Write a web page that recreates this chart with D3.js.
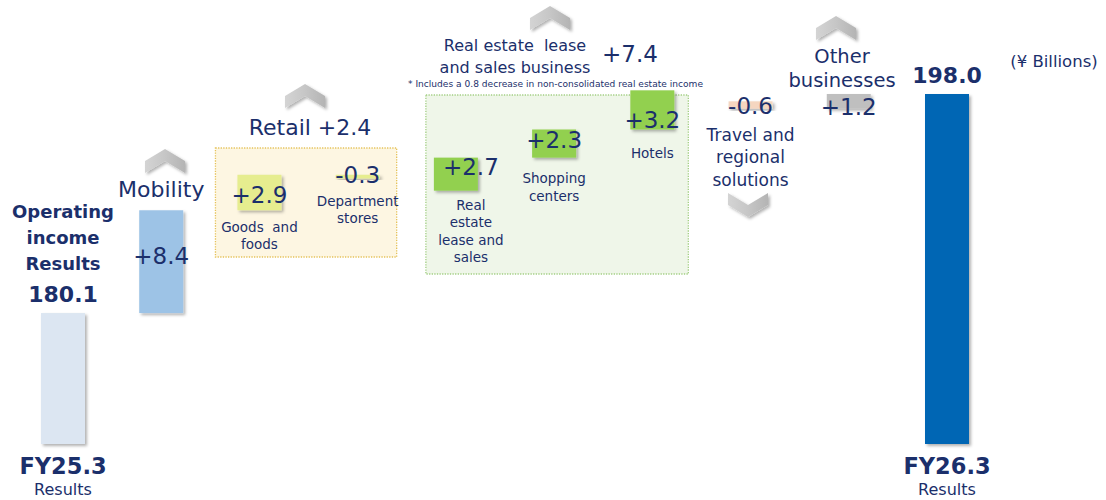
<!DOCTYPE html>
<html>
<head>
<meta charset="utf-8">
<script src="https://cdn.jsdelivr.net/npm/d3@7"></script>
<style>
  body { margin: 0; background: #fff; }
  svg text { font-family: Verdana, "DejaVu Sans", sans-serif; fill: #1b2f6b; }
</style>
</head>
<body>
<div id="chart"></div>
<script>
// values in ¥ billions
const startLabel = 'FY25.3', endLabel = 'FY26.3';
const startValue = 180.1, endValue = 198.0;

const segmentKeys = ['mobility', 'retail', 'realEstate', 'travel', 'other'];
const segmentValues = [8.4, 2.4, 7.4, -0.6, 1.2];

const retailLabels = ['Goods and foods', 'Department stores'];
const retailValues = [2.9, -0.3];

const realEstateLabels = ['Real estate lease and sales', 'Shopping centers', 'Hotels'];
const realEstateValues = [2.7, 2.3, 3.2];

const columns = ['start', 'mobility', 'goods', 'dept', 're1', 're2', 're3', 'travel', 'other', 'end'];

const width = 1106, height = 500;
const barW = 44;

const svg = d3.select('#chart').append('svg')
  .attr('width', width)
  .attr('height', height);

const defs = svg.append('defs');
defs.append('filter').attr('id', 'shadow')
  .attr('x', '-20%').attr('y', '-20%').attr('width', '150%').attr('height', '150%')
  .append('feDropShadow')
    .attr('dx', 2).attr('dy', 2).attr('stdDeviation', 1.4)
    .attr('flood-color', '#000').attr('flood-opacity', 0.3);
const grad = defs.append('linearGradient').attr('id', 'chev')
  .attr('x1', 0).attr('x2', 1).attr('y1', 0).attr('y2', 0);
grad.append('stop').attr('offset', '0%').attr('stop-color', '#d4d4d4');
grad.append('stop').attr('offset', '50%').attr('stop-color', '#c6c6c6');
grad.append('stop').attr('offset', '100%').attr('stop-color', '#b4b4b4');

// broken axis: the floor of the two result bars sits at 169.4
const x = d3.scalePoint().domain(columns).range([63, 947]);
const y = d3.scaleLinear().domain([169.4, endValue]).range([444, 94]);

// build the waterfall steps
const steps = [];
let level = startValue;
steps.push({col: 'start', from: y.domain()[0], to: startValue, fill: '#dce6f2'});

steps.push({col: 'mobility', from: level, to: level + segmentValues[0], fill: '#9dc3e6'});
level += segmentValues[0];

let p = level;
retailValues.forEach((v, i) => {
  steps.push({col: ['goods', 'dept'][i], from: p, to: p + v, fill: '#e6ed8f'});
  p += v;
});
level += segmentValues[1];

// the real estate total also carries a non-consolidated decrease (not drawn)
p = level + (segmentValues[2] - d3.sum(realEstateValues));
realEstateValues.forEach((v, i) => {
  steps.push({col: ['re1', 're2', 're3'][i], from: p, to: p + v, fill: '#92d050'});
  p += v;
});
level += segmentValues[2];

// unlisted items (eliminations) so the chain lands on the result
level += endValue - (startValue + d3.sum(segmentValues));

steps.push({col: 'travel', from: level, to: level + segmentValues[3], fill: '#f5d6c0'});
level += segmentValues[3];
steps.push({col: 'other', from: level, to: level + segmentValues[4], fill: '#bfbfbf'});
level += segmentValues[4];

steps.push({col: 'end', from: y.domain()[0], to: endValue, fill: '#0566b4'});

// group frames
const frames = [
  {cols: ['goods', 'dept'], padL: 44, padR: 39, top: 148, bottom: 257, fill: '#fdf6e2', stroke: '#e5c25a'},
  {cols: ['re1', 're2', 're3'], padL: 30, padR: 36, top: 95, bottom: 274, fill: '#eff6e9', stroke: '#a3cf84'}
];
svg.append('g').selectAll('rect')
  .data(frames)
  .join('rect')
    .attr('x', d => x(d.cols[0]) - d.padL)
    .attr('y', d => d.top)
    .attr('width', d => x(d.cols[d.cols.length - 1]) + d.padR - x(d.cols[0]) + d.padL)
    .attr('height', d => d.bottom - d.top)
    .attr('fill', d => d.fill)
    .attr('stroke', d => d.stroke)
    .attr('stroke-width', 1.3)
    .attr('stroke-dasharray', '1.3 1.3');

svg.append('g').selectAll('rect')
  .data(steps)
  .join('rect')
    .attr('x', d => x(d.col) - barW / 2)
    .attr('y', d => y(Math.max(d.from, d.to)))
    .attr('width', barW)
    .attr('height', d => Math.max(2.5, Math.abs(y(d.from) - y(d.to))))
    .attr('fill', d => d.fill)
    .attr('filter', 'url(#shadow)');

// chevrons
function chevron(cx, top, up) {
  const w = 40, h = 24, t = 12;
  const pts = up
    ? [[0, t], [w / 2, 0], [w, t], [w, h], [w / 2, h - t], [0, h]]
    : [[0, 0], [w / 2, t], [w, 0], [w, h - t], [w / 2, h], [0, h - t]];
  svg.append('path')
    .attr('d', 'M' + pts.map(q => [cx - w / 2 + q[0], top + q[1]].join(',')).join('L') + 'Z')
    .attr('fill', 'url(#chev)')
    .attr('filter', 'url(#shadow)');
}
chevron(165, 149, true);
chevron(305, 84, true);
chevron(550, 6, true);
chevron(836, 16, true);
chevron(748, 193, false);

function label(lines, cx, baseline, size, opts = {}) {
  const lh = opts.lh || size * 1.2;
  const t = svg.append('text')
    .attr('text-anchor', opts.anchor || 'middle')
    .attr('font-size', size)
    .attr('font-weight', opts.bold ? 'bold' : null);
  [].concat(lines).forEach((s, i) => {
    t.append('tspan')
      .attr('x', cx)
      .attr('y', baseline + i * lh)
      .attr('xml:space', 'preserve')
      .text(s);
  });
  return t;
}
const fmt = v => (v > 0 ? '+' : '') + v.toFixed(1);

// result bars
label(['Operating', 'income', 'Results'], x('start'), 218, 18, {bold: true, lh: 26});
label(startValue.toFixed(1), x('start'), 302, 22, {bold: true});
label(startLabel, x('start'), 474, 22.5, {bold: true});
label('Results', x('start'), 495, 16);

label(endValue.toFixed(1), x('end'), 83, 22, {bold: true});
label(endLabel, x('end'), 474, 22.5, {bold: true});
label('Results', x('end'), 495, 16);
label('(¥ Billions)', 1054, 67, 16.5);

// mobility
label('Mobility', x('mobility'), 197, 22);
label(fmt(segmentValues[0]), x('mobility'), 264, 23);

// retail
label('Retail ' + fmt(segmentValues[1]), 310, 135, 22);
label(fmt(retailValues[0]), x('goods'), 203, 23);
label(['Goods  and', 'foods'], x('goods'), 232, 13.5, {lh: 16.5});
label(fmt(retailValues[1]), x('dept'), 183, 23);
label(['Department', 'stores'], x('dept'), 206, 13.5, {lh: 17});

// real estate
label(['Real estate  lease', 'and sales business'], 515, 51, 16, {lh: 22});
label(fmt(segmentValues[2]), 630, 62, 23);
svg.append('text')
  .attr('x', 408).attr('y', 87)
  .attr('font-size', 9)
  .attr('textLength', 295)
  .attr('lengthAdjust', 'spacingAndGlyphs')
  .text('* Includes a 0.8 decrease in non-consolidated real estate income');
label(fmt(realEstateValues[0]), x('re1') + 15, 175, 23);
label(['Real', 'estate', 'lease and', 'sales'], x('re1') + 15, 210, 13.5, {lh: 17.3});
label(fmt(realEstateValues[1]), x('re2'), 148, 23);
label(['Shopping', 'centers'], x('re2'), 183, 13.5, {lh: 17.5});
label(fmt(realEstateValues[2]), x('re3'), 128, 23);
label('Hotels', x('re3'), 158, 13.5);

// travel
label(fmt(segmentValues[3]), x('travel'), 114, 23);
label(['Travel and', 'regional', 'solutions'], x('travel'), 141, 17, {lh: 22.3});

// other
label(['Other', 'businesses'], 842, 63, 19.5, {lh: 24});
label(fmt(segmentValues[4]), x('other'), 115, 23);
</script>
</body>
</html>
